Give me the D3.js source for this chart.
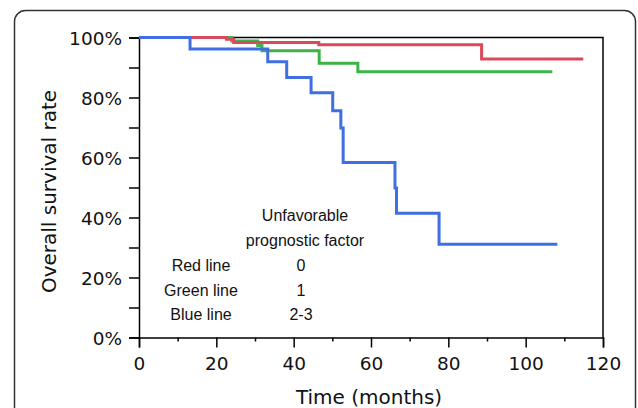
<!DOCTYPE html>
<html>
<head>
<meta charset="utf-8">
<script src="https://cdn.jsdelivr.net/npm/d3@7"></script>
<style>
  html, body { margin: 0; padding: 0; background: #fff; }
  svg { display: block; }
</style>
</head>
<body>
<svg id="chart" width="638" height="408"></svg>
<script>
// ---- data ----
const redTimes   = [0, 22.6, 24.5, 46.5, 88.6, 114.9];
const redSurv    = [100, 99.4, 98.3, 97.6, 92.8, 92.8];
const greenTimes = [0, 24.0, 30.7, 31.8, 46.6, 56.6, 106.9];
const greenSurv  = [100, 98.8, 97.3, 95.6, 91.4, 88.6, 88.6];
const blueTimes  = [0, 13.2, 33.3, 38.2, 44.5, 50.1, 52.2, 52.8, 66.2, 66.6, 77.6, 108.2];
const blueSurv   = [100, 96.2, 91.9, 86.7, 81.6, 75.6, 69.8, 58.3, 49.8, 41.4, 31.1, 31.1];
const xTicks = [0, 20, 40, 60, 80, 100, 120];
const yTicks = [0, 20, 40, 60, 80, 100];
const legendNames  = ["Red line", "Green line", "Blue line"];
const legendValues = ["0", "1", "2-3"];
const legendTitle  = ["Unfavorable", "prognostic factor"];

// ---- layout ----
const svg = d3.select("#chart");
const pL = 139, pR = 603, pT = 37.5, pB = 337.5;
const x = d3.scaleLinear().domain([0, 120]).range([pL, pR]);
const y = d3.scaleLinear().domain([0, 100]).range([pB, pT]);
const tickFont = "Verdana, 'DejaVu Sans', sans-serif";

// outer frame
svg.append("rect")
  .attr("x", 14.5).attr("y", 10.5).attr("width", 621).attr("height", 420)
  .attr("rx", 11).attr("ry", 11)
  .attr("fill", "none").attr("stroke", "#333").attr("stroke-width", 1.5);

// plot border top/right
svg.append("path")
  .attr("d", `M${pL},${pT}H${pR}V${pB}`)
  .attr("fill", "none").attr("stroke", "#000").attr("stroke-width", 1.5);

// axes
const yAxis = d3.axisLeft(y).tickValues(d3.range(0, 101, 10)).tickSize(10)
  .tickFormat(d => yTicks.includes(d) ? d + "%" : "");
const gy = svg.append("g").attr("transform", `translate(${pL},0)`).call(yAxis);
gy.select(".domain").attr("stroke-width", 1.5);
gy.selectAll(".tick line").attr("stroke-width", 1.5);
gy.selectAll("text").attr("font-family", tickFont).attr("font-size", 18.5).attr("fill", "#111").attr("x", -17).attr("dy", "0.36em");

const xAxis = d3.axisBottom(x).tickValues(d3.range(0, 121, 10)).tickSize(10)
  .tickFormat(d => xTicks.includes(d) ? d : "");
const gx = svg.append("g").attr("transform", `translate(0,${pB})`).call(xAxis);
gx.select(".domain").attr("stroke-width", 1.5);
gx.selectAll(".tick line").attr("stroke-width", 1.5)
  .attr("y2", d => xTicks.includes(d) ? 10 : 4);
gx.selectAll("text").attr("font-family", tickFont).attr("font-size", 18.5).attr("fill", "#111").attr("y", 19.5).attr("dy", "0.72em");

// axis titles
svg.append("text")
  .attr("transform", `translate(55.5,${(pT + pB) / 2 + 4}) rotate(-90)`)
  .attr("text-anchor", "middle").attr("font-family", tickFont).attr("font-size", 20).attr("fill", "#111")
  .text("Overall survival rate");
svg.append("text")
  .attr("x", (pL + pR) / 2 - 2).attr("y", 404)
  .attr("text-anchor", "middle").attr("font-family", tickFont).attr("font-size", 20).attr("fill", "#111")
  .text("Time (months)");

// curves
const line = d3.line().x(d => x(d[0])).y(d => y(d[1])).curve(d3.curveStepAfter);
const series = [
  { t: greenTimes, s: greenSurv, c: "#3db34a" },
  { t: redTimes, s: redSurv, c: "#d94b5b" },
  { t: blueTimes, s: blueSurv, c: "#3f6fe2" }
];
series.forEach(se => {
  svg.append("path")
    .datum(d3.zip(se.t, se.s))
    .attr("d", line)
    .attr("fill", "none").attr("stroke", se.c).attr("stroke-width", 3)
    .attr("stroke-linejoin", "miter");
});

// legend text
const legFont = "'Liberation Sans', Arial, Helvetica, sans-serif";
legendTitle.forEach((t, i) => {
  svg.append("text").attr("x", 305).attr("y", 221 + i * 24.5)
    .attr("text-anchor", "middle").attr("font-family", legFont).attr("font-size", 16).attr("fill", "#111").text(t);
});
legendNames.forEach((t, i) => {
  svg.append("text").attr("x", 201).attr("y", 271 + i * 24.5)
    .attr("text-anchor", "middle").attr("font-family", legFont).attr("font-size", 16).attr("fill", "#111").text(t);
  svg.append("text").attr("x", 301).attr("y", 271 + i * 24.5)
    .attr("text-anchor", "middle").attr("font-family", legFont).attr("font-size", 16).attr("fill", "#111").text(legendValues[i]);
});
</script>
</body>
</html>
